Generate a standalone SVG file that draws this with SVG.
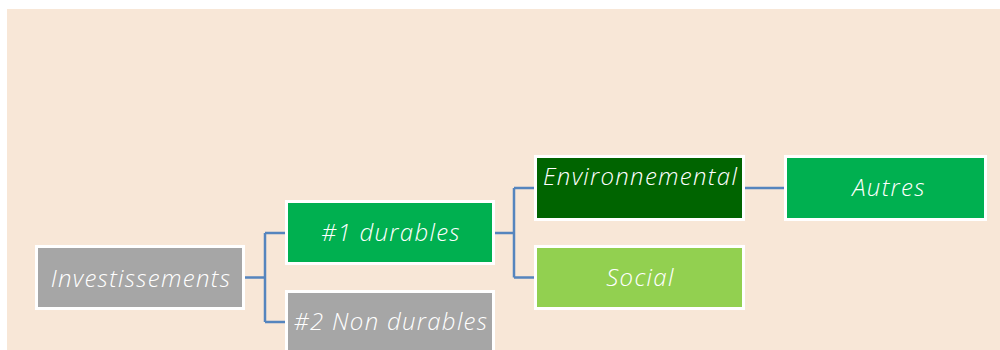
<svg xmlns="http://www.w3.org/2000/svg" width="1000" height="350" viewBox="0 0 1000 350">
<style>
.box{stroke:#FFFFFF;stroke-width:3}
.lbl{font-family:"Open Sans","Liberation Sans",sans-serif;font-style:italic;font-weight:300;font-size:24px;fill:#FFFFFF;text-anchor:middle;letter-spacing:1.3px}
.con{fill:none;stroke:#5585BE;stroke-width:2.5}
</style>
<rect x="0" y="0" width="1000" height="350" fill="#FFFFFF"/>
<rect x="7" y="9" width="993" height="341" fill="#F8E7D7"/>
<g id="connectors">
<path class="con" d="M245 277.5 H265 M265 233 V322 M265 233 H286 M265 322 H286"/>
<path class="con" d="M494 233 H514 M514 188 V277.5 M514 188 H535 M514 277.5 H535"/>
<path class="con" d="M744 188 H785"/>
</g>
<g id="investissements">
<rect class="box" x="36.5" y="246.5" width="207" height="62" fill="#A6A6A6"/>
<text class="lbl" x="141" y="287">Investissements</text>
</g>
<g id="durables">
<rect class="box" x="286.5" y="201.5" width="207" height="62" fill="#00B050"/>
<text class="lbl" x="391" y="241">#1 durables</text>
</g>
<g id="non-durables">
<rect class="box" x="286.5" y="291.5" width="207" height="62" fill="#A6A6A6"/>
<text class="lbl" x="391" y="330">#2 Non durables</text>
</g>
<g id="environnemental">
<rect class="box" x="535.5" y="156.5" width="208" height="63" fill="#006400"/>
<text class="lbl" x="640.5" y="185">Environnemental</text>
</g>
<g id="social">
<rect class="box" x="535.5" y="246.5" width="208" height="62" fill="#92D050"/>
<text class="lbl" x="640.5" y="286">Social</text>
</g>
<g id="autres">
<rect class="box" x="785.5" y="156.5" width="200" height="63" fill="#00B050"/>
<text class="lbl" x="889" y="196">Autres</text>
</g>
</svg>
